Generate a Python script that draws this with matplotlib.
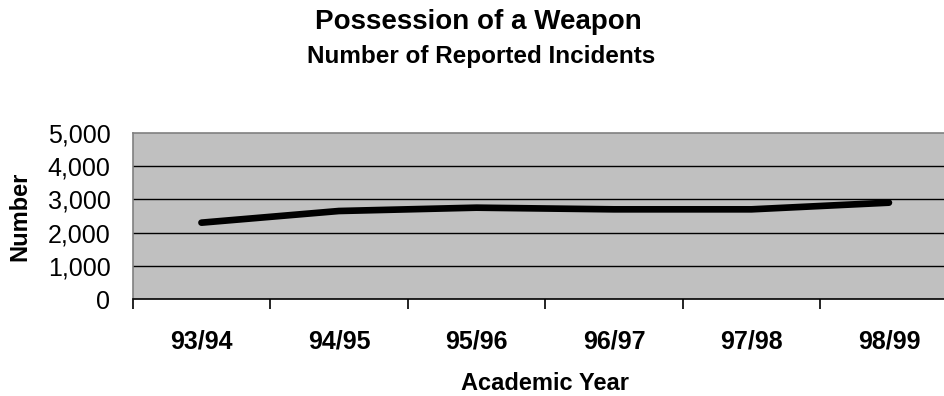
import matplotlib
matplotlib.use("Agg")
import matplotlib.pyplot as plt
from matplotlib.ticker import FuncFormatter, FixedLocator

plt.rcParams['font.family'] = ['Liberation Sans', 'DejaVu Sans']

years = ["93/94", "94/95", "95/96", "96/97", "97/98", "98/99"]
incidents = [2300, 2650, 2750, 2700, 2700, 2900]
y_ticks = [0, 1000, 2000, 3000, 4000, 5000]

fig = plt.figure(figsize=(9.45, 3.96), dpi=100)
# plot area runs past the right edge of the figure, as in the original layout
ax = fig.add_axes([132.7 / 945, 1 - 299.3 / 396, 825 / 945, 166.6 / 396])
ax.set_facecolor('#C0C0C0')

x = list(range(len(years)))
ax.plot(x, incidents, color='black', lw=4.8, solid_capstyle='round',
        solid_joinstyle='round', zorder=3)

ax.set_xlim(-0.5, len(years) - 0.5)
ax.set_ylim(0, 5000)

for v in y_ticks[1:-1]:
    ax.axhline(v, color='black', lw=1.0, zorder=1)

ax.set_yticks(y_ticks)
ax.yaxis.set_major_formatter(FuncFormatter(lambda v, p: f"{int(v):,}"))
ax.tick_params(axis='y', length=0, pad=16, labelsize=18)

ax.set_xticks(x)
ax.set_xticklabels(years, fontsize=18, fontweight='bold')
ax.xaxis.set_minor_locator(FixedLocator([i - 0.5 for i in range(len(years) + 1)]))
ax.tick_params(axis='x', which='major', length=0, pad=22)
ax.tick_params(axis='x', which='minor', length=7, width=1.2, color='black')

for side in ('top', 'left', 'right'):
    ax.spines[side].set_color('#808080')
    ax.spines[side].set_linewidth(1.2)
ax.spines['bottom'].set_color('black')
ax.spines['bottom'].set_linewidth(1.2)

ax.set_xlabel("Academic Year", fontsize=17, fontweight='bold', labelpad=13)
ax.set_ylabel("Number", fontsize=17, fontweight='bold', labelpad=12)

fig.text(478 / 945, 1 - 22 / 396, "Possession of a Weapon", ha='center', va='center',
         fontsize=20, fontweight='bold')
fig.text(481 / 945, 1 - 57 / 396, "Number of Reported Incidents", ha='center', va='center',
         fontsize=17.5, fontweight='bold')

fig.savefig("out.png", dpi=100)
